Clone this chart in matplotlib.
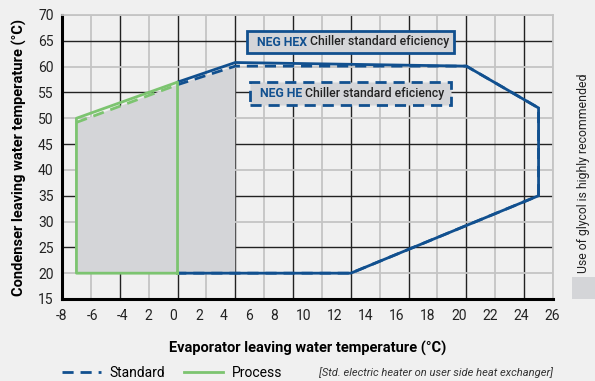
import matplotlib
matplotlib.use("Agg")
import matplotlib.pyplot as plt
from matplotlib.patches import Polygon, Rectangle, FancyBboxPatch
from matplotlib.lines import Line2D

plt.rcParams['font.family'] = ['Roboto', 'DejaVu Sans']

# ---- data ----
hex_std_x = [0, 4, 20, 25, 25, 12, 0]
hex_std_y = [57, 60.8, 60.1, 52, 35, 20, 20]
he_std_x = [0, 4, 20, 25, 25, 12, 0]
he_std_y = [56.5, 60.1, 60.1, 52, 35, 20, 20]
hex_proc_x = [0, -7, -7, 0, 0]
hex_proc_y = [20, 20, 50, 57, 20]
he_proc_x = [-7, 0]
he_proc_y = [49.2, 56.5]
shade_x = [-7, -7, 0, 4, 4]
shade_y = [20, 49.2, 56.5, 60.1, 20]

xtick_labels = ["-8", "-6", "-4", "2", "0", "2", "4", "6", "8", "10", "12",
                "14", "16", "18", "20", "22", "24", "26"]
yticks = [15, 20, 25, 30, 35, 40, 45, 50, 55, 60, 65, 70]

BLUE = "#11508f"
GREEN = "#7cc470"
BG = "#f0f0f0"
SHADE = "#d4d5d8"

W, H = 595, 381
fig = plt.figure(figsize=(W / 100, H / 100), dpi=100, facecolor=BG)
L, R, T, B = 62, 553, 15, 299
ax = fig.add_axes([L / W, 1 - B / H, (R - L) / W, (B - T) / H], facecolor=BG)
ax.set_xlim(-8, 26)
ax.set_ylim(15, 70)

# grid
for gx in range(-8, 27, 2):
    major = (gx % 4 == 0)
    ax.axvline(gx, color="#222222" if major else "#c4c4c4",
               lw=1.0 if major else 1.3, zorder=0)
for gy in range(15, 71, 5):
    major = (gy % 10 == 5)
    ax.axhline(gy, color="#222222" if major else "#c4c4c4",
               lw=1.0 if major else 1.3, zorder=0)

for s in ["top", "right"]:
    ax.spines[s].set_color("#c4c4c4")
    ax.spines[s].set_linewidth(1.3)
for s in ["left", "bottom"]:
    ax.spines[s].set_color("black")
    ax.spines[s].set_linewidth(2.2)

# shaded region
ax.add_patch(Polygon(list(zip(shade_x, shade_y)), closed=True,
                     facecolor=SHADE, edgecolor="none", zorder=1))

# lines
ax.plot(hex_std_x, hex_std_y, color=BLUE, lw=2, zorder=3, solid_joinstyle="miter")
ax.plot(he_std_x, he_std_y, color=BLUE, lw=2, ls=(0, (4, 2.5)), zorder=3)
ax.plot(hex_proc_x, hex_proc_y, color=GREEN, lw=2, zorder=4)
ax.plot(he_proc_x, he_proc_y, color=GREEN, lw=2, ls=(0, (4, 2.5)), zorder=4)

# ticks (label anchors as drawn in the reference)
xtick_pos = [-8, -5.92, -3.84, -2.04, -0.31, 1.49, 3.22, 4.95, 6.68, 8.76,
             10.9, 13.05, 15.2, 17.35, 19.5, 21.64, 23.79, 25.93]
ax.set_xticks(xtick_pos)
ax.set_xticklabels(xtick_labels)
ax.set_yticks(yticks)
ax.set_yticklabels([str(v) for v in yticks])
ax.tick_params(length=0, labelsize=10, colors="#222222", pad=7)
ax.tick_params(axis="y", pad=6)

ax.set_xlabel("Evaporator leaving water temperature (°C)", fontsize=10.5,
              fontweight="bold", labelpad=13)
ax.set_ylabel("Condenser leaving water temperature (°C)", fontsize=10.5,
              fontweight="bold", labelpad=8)

# annotation boxes
def box(x0, y0, x1, y1, bold, rest, dashed):
    p = FancyBboxPatch((x0, y0), x1 - x0, y1 - y0, boxstyle="square,pad=0",
                       transform=fig.transFigure, facecolor=SHADE,
                       edgecolor=BLUE, lw=2,
                       ls=(0, (4, 2.5)) if dashed else "-", zorder=5)
    fig.patches.append(p)
    cy = (y0 + y1) / 2
    t1 = fig.text(x0 + 10 / W, cy, bold, color=BLUE, fontsize=8.8,
                  fontweight="bold", va="center", ha="left", zorder=6)
    fig.canvas.draw()
    bb = t1.get_window_extent()
    fig.text(bb.x1 / W + 3 / W, cy, rest, color="#222222", fontsize=8.8,
             fontweight="medium", va="center", ha="left", zorder=6)

box(247 / W, 1 - 53 / H, 454 / W, 1 - 31 / H, "NEG HEX",
    "Chiller standard eficiency", False)
box(250 / W, 1 - 105 / H, 451 / W, 1 - 82 / H, "NEG HE",
    "Chiller standard eficiency", True)

# right side note
fig.text(583 / W, 1 - 173 / H, "Use of glycol is highly recommended",
         rotation=90, fontsize=8.8, color="#222222", ha="center", va="center")
fig.patches.append(Rectangle((572 / W, 1 - 299 / H), 23 / W, 22 / H,
                             transform=fig.transFigure, facecolor=SHADE,
                             edgecolor="none"))

# legend
handles = [Line2D([], [], color=BLUE, lw=2, ls=(0, (4, 2.5))),
           Line2D([], [], color=GREEN, lw=2)]
fig.legend(handles, ["Standard", "Process"], loc="center left",
           bbox_to_anchor=(62 / W, 1 - 373 / H), ncol=2, frameon=False,
           fontsize=10, handlelength=2.8, handletextpad=0.6,
           columnspacing=1.4, borderaxespad=0, borderpad=0)
fig.text(553 / W, 1 - 373 / H, "[Std. electric heater on user side heat exchanger]",
         fontsize=8.0, style="italic", color="#333333", ha="right", va="center")

fig.savefig("out.png", dpi=100, facecolor=BG)
